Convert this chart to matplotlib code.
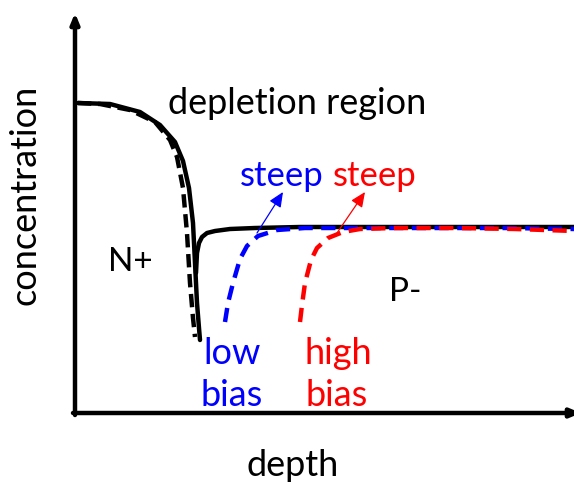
import matplotlib
matplotlib.use("Agg")
import matplotlib.pyplot as plt

# coordinates: depth (from y-axis), concentration (above x-axis), arbitrary units
solid_drop_x = [3, 35, 65, 85, 100, 108, 114, 118, 120, 122, 124, 125]
solid_drop_y = [310, 309, 301, 288, 271, 252, 225, 190, 150, 110, 85, 73]
solid_rise_x = [121, 122, 124, 127, 132, 140, 155, 180, 225, 300, 400, 499]
solid_rise_y = [140, 160, 170, 176, 180, 182, 184, 185, 186, 186, 186, 186]
dash_black_x = [3, 25, 55, 80, 95, 102, 108, 112, 115, 118, 120]
dash_black_y = [310, 309, 303, 291, 273, 256, 225, 180, 130, 95, 76]
blue_x = [150, 153, 158, 165, 172, 183, 202, 230, 280, 350, 430, 499]
blue_y = [91, 110, 130, 154, 167, 177, 183, 185, 185, 185, 185, 184]
red_x = [225, 227, 230, 236, 242, 253, 268, 285, 320, 380, 440, 499]
red_y = [91, 108, 130, 153, 165, 175, 181, 184, 185, 185, 184, 182]

fig = plt.figure(figsize=(5.74, 4.83), dpi=100)
ax = fig.add_axes([0, 0, 1, 1])
ax.set_xlim(-75, 499)
ax.set_ylim(-70, 413)
ax.axis("off")

font = "Lato"
lw = 3.2

# axes with arrows
ax.annotate("", xy=(0, 400), xytext=(0, -2), annotation_clip=False,
            arrowprops=dict(arrowstyle="-|>,head_length=0.6,head_width=0.25", lw=lw, color="black", shrinkA=0, shrinkB=0))
ax.annotate("", xy=(506, 0), xytext=(-2, 0), annotation_clip=False,
            arrowprops=dict(arrowstyle="-|>,head_length=0.6,head_width=0.25", lw=lw, color="black", shrinkA=0, shrinkB=0))

ax.plot(solid_drop_x, solid_drop_y, color="black", lw=lw, solid_capstyle="round", solid_joinstyle="round")
ax.plot(solid_rise_x, solid_rise_y, color="black", lw=lw, solid_capstyle="round", solid_joinstyle="round")
ax.plot(dash_black_x, dash_black_y, color="black", lw=lw, dashes=(3.0, 1.5))
ax.plot(blue_x, blue_y, color="#0000ff", lw=lw, dashes=(3.2, 1.9))
ax.plot(red_x, red_y, color="#ff0000", lw=lw, dashes=(3.2, 1.9))

# small arrows
for (x0, y0, x1, y1, c) in [(182, 180, 208, 221, "#0000ff"), (262, 180, 290, 221, "#ff0000")]:
    ax.annotate("", xy=(x1, y1), xytext=(x0, y0),
                arrowprops=dict(arrowstyle="-|>,head_length=0.9,head_width=0.4", lw=0.9, color=c, shrinkA=0, shrinkB=0))

fs = 26
ax.text(222, 310, "depletion region", fontsize=fs, family=font, ha="center", va="center")
ax.text(207, 237, "steep", fontsize=fs - 1, family=font, ha="center", va="center", color="#0000ff")
ax.text(300, 237, "steep", fontsize=fs - 1, family=font, ha="center", va="center", color="#ff0000")
ax.text(55, 151, "N+", fontsize=fs - 2, family=font, ha="center", va="center")
ax.text(330, 121, "P-", fontsize=fs - 2, family=font, ha="center", va="center")
ax.text(157, 60, "low", fontsize=fs, family=font, ha="center", va="center", color="#0000ff")
ax.text(157, 17, "bias", fontsize=fs, family=font, ha="center", va="center", color="#0000ff")
ax.text(263, 60, "high", fontsize=fs, family=font, ha="center", va="center", color="#ff0000")
ax.text(262, 17, "bias", fontsize=fs, family=font, ha="center", va="center", color="#ff0000")
ax.text(-50, 218, "concentration", fontsize=fs, family=font, ha="center", va="center", rotation=90)
ax.text(218, -52, "depth", fontsize=fs, family=font, ha="center", va="center")

fig.savefig("out.png", dpi=100)
